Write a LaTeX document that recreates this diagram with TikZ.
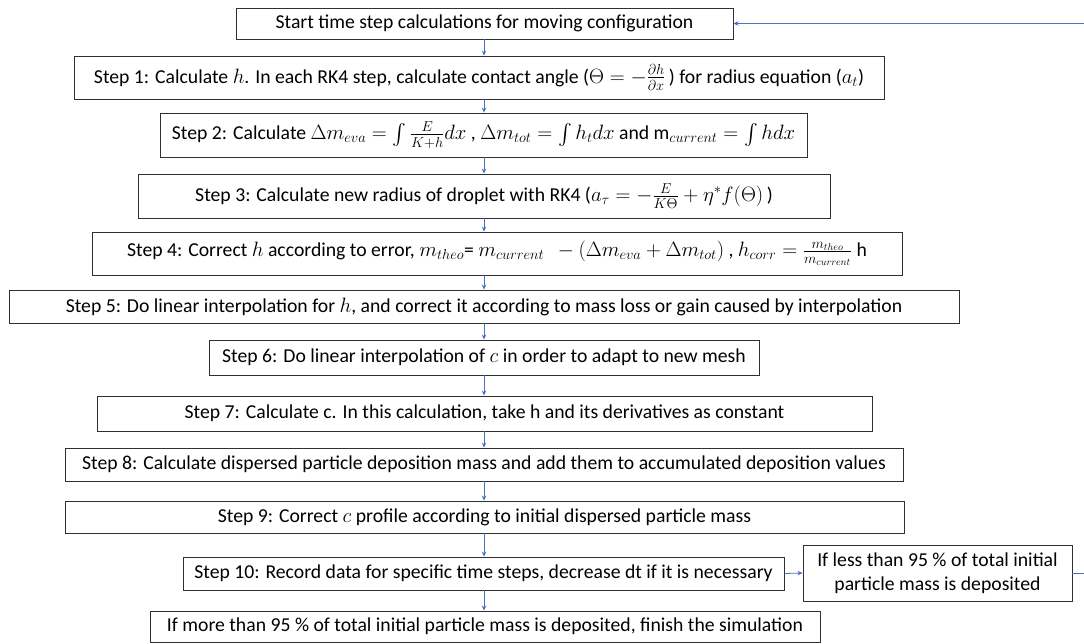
\documentclass[tikz,border=0pt]{standalone}
\usepackage{amsmath}
\usepackage{fontspec}
\setmainfont{Carlito}
\usetikzlibrary{arrows.meta}
\definecolor{flowblue}{HTML}{4472C4}
\definecolor{boxline}{HTML}{303030}
\tikzset{
  stepbox/.style={draw=boxline, line width=0.9pt, inner sep=0pt, align=center,
    font=\fontsize{19.7}{24}\selectfont},
  flow/.style={draw=flowblue, line width=0.8pt, -{Stealth[length=5pt,width=4.5pt]}}
}

\begin{document}
\begin{tikzpicture}[x=1pt,y=-1pt]
  \path[use as bounding box, clip] (0,0) rectangle (1084,643); % page frame
  \coordinate (axis) at (484,0); % line of the down arrows
  \coordinate (loop) at (1110,0); % feedback line, off the page
  % boxes
  \node[stepbox, minimum width=497pt, minimum height=31pt] (start) at (484.5,23.5) {Start time step calculations for moving configuration};
  \node[stepbox, minimum width=810pt, minimum height=43pt] (s1) at (479,77.5) {Step 1: Calculate $h$. In each RK4 step, calculate contact angle ($\Theta=-\frac{\partial h}{\partial x}\,$) for radius equation ($a_t$)};
  \node[stepbox, minimum width=647pt, minimum height=44pt] (s2) at (483.5,135) {Step 2: Calculate $\Delta m_{eva}=\int\frac{E}{K+h}dx$ , $\Delta m_{tot}=\int h_t dx$ and $\mathrm{m}_{current}=\int h dx$};
  \node[stepbox, minimum width=692pt, minimum height=44pt] (s3) at (484,196) {Step 3: Calculate new radius of droplet with RK4 ($a_\tau=-\frac{E}{K\Theta}+\eta^{*}f(\Theta)\,$)};
  \node[stepbox, minimum width=810pt, minimum height=43pt] (s4) at (497,253.5) {Step 4: Correct $h$ according to error, $m_{theo}$= $m_{current}\ \ -(\Delta m_{eva}+\Delta m_{tot})$ , $h_{corr}=\frac{m_{theo}}{m_{current}}\ \mathrm{h}$};
  \node[stepbox, minimum width=950pt, minimum height=33pt] (s5) at (484,306.5) {Step 5: Do linear interpolation for $h$, and correct it according to mass loss or gain caused by interpolation};
  \node[stepbox, minimum width=550pt, minimum height=35pt] (s6) at (484,357.5) {Step 6: Do linear interpolation of $c$ in order to adapt to new mesh};
  \node[stepbox, minimum width=775pt, minimum height=35pt] (s7) at (484.5,413.5) {Step 7: Calculate c. In this calculation, take h and its derivatives as constant};
  \node[stepbox, minimum width=838pt, minimum height=33pt] (s8) at (484,464.5) {Step 8: Calculate dispersed particle deposition mass and add them to accumulated deposition values};
  \node[stepbox, minimum width=839pt, minimum height=32pt] (s9) at (484.5,517) {Step 9: Correct $c$ profile according to initial dispersed particle mass};
  \node[stepbox, minimum width=601pt, minimum height=33pt] (s10) at (483.5,573.5) {Step 10: Record data for specific time steps, decrease dt if it is necessary};
  \node[stepbox, minimum width=269pt, minimum height=56pt] (less) at (937.5,573) {If less than 95 \% of total initial\\particle mass is deposited};
  \node[stepbox, minimum width=670pt, minimum height=31pt] (final) at (485,626.5) {If more than 95 \% of total initial particle mass is deposited, finish the simulation};
  % arrows down
  \foreach \a/\b in {start/s1, s1/s2, s2/s3, s3/s4, s4/s5, s5/s6, s6/s7, s7/s8, s8/s9, s9/s10, s10/final}
    \draw[flow] (\a.south -| axis) -- (\b.north -| axis);
  \draw[flow] (s10.east) -- (less.west); % to the check box
  \draw[flow] (less.east) -- (less.east -| loop) -- (start.east -| loop) -- (start.east); % back to start
\end{tikzpicture}
\end{document}
